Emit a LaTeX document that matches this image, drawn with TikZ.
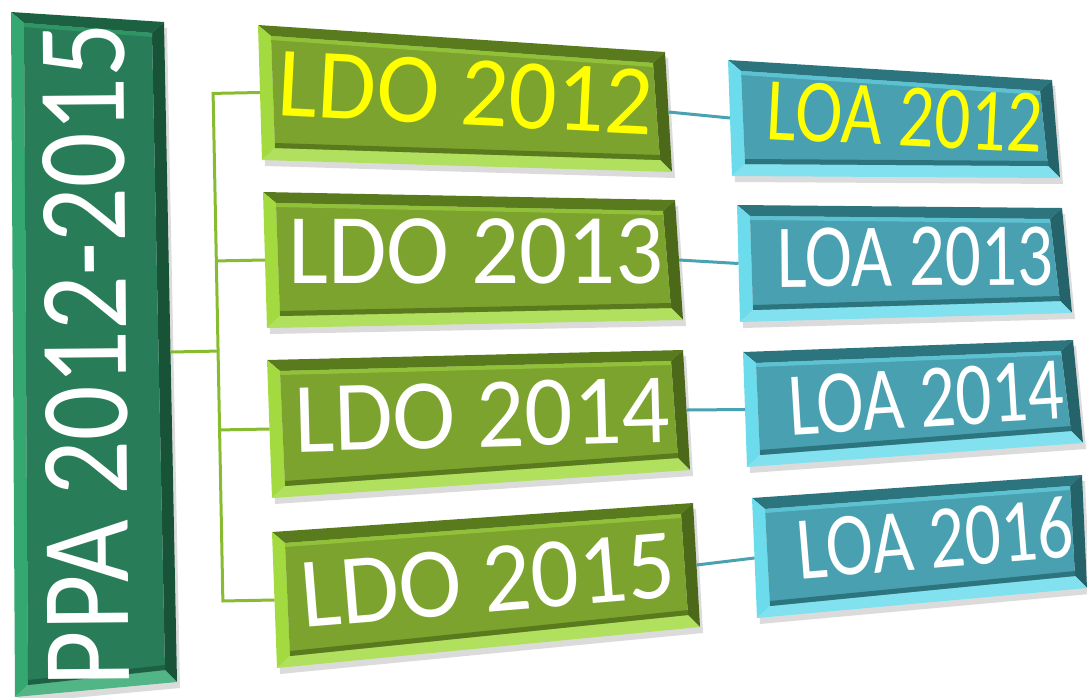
\documentclass[tikz,border=0pt]{standalone}
\usepackage{fontspec}
\setmainfont{Carlito}
\newfontfamily\ppafont[FakeStretch=0.86]{Carlito}
\newfontfamily\ldofont[FakeStretch=0.95]{Carlito}
\newfontfamily\loafont[FakeStretch=0.79]{Carlito}
\usetikzlibrary{calc}

\definecolor{ppaface}{RGB}{40,125,88}
\definecolor{ppalight}{RGB}{52,168,112}
\definecolor{ppadark}{RGB}{28,98,66}
\definecolor{ldoface}{RGB}{124,163,46}
\definecolor{ldolight}{RGB}{162,218,64}
\definecolor{ldodark}{RGB}{90,122,30}
\definecolor{loaface}{RGB}{72,160,176}
\definecolor{loalight}{RGB}{108,220,236}
\definecolor{loadark}{RGB}{44,116,126}
\definecolor{treegreen}{RGB}{136,188,48}
\definecolor{linkteal}{RGB}{72,162,178}
\definecolor{textyellow}{RGB}{255,255,0}

% beveled box from its four corners: name, tl, tr, br, bl, colour prefix
\newcommand{\bevelbox}[6]{%
  \coordinate (#1-tl) at #2;
  \coordinate (#1-tr) at #3;
  \coordinate (#1-br) at #4;
  \coordinate (#1-bl) at #5;
  \coordinate (#1-itl) at ($(#1-tl)+(13,11)$);
  \coordinate (#1-itr) at ($(#1-tr)+(-12,11)$);
  \coordinate (#1-ibr) at ($(#1-br)+(-12,-12)$);
  \coordinate (#1-ibl) at ($(#1-bl)+(13,-12)$);
  \fill[black,opacity=.14] ($(#1-tl)+(3,6)$) -- ($(#1-tr)+(3,6)$) -- ($(#1-br)+(3,6)$) -- ($(#1-bl)+(3,6)$) -- cycle;
  \fill[#6dark] (#1-tl) -- (#1-tr) -- (#1-itr) -- (#1-itl) -- cycle;
  \fill[#6dark!85!black] (#1-tr) -- (#1-br) -- (#1-ibr) -- (#1-itr) -- cycle;
  \fill[#6light] (#1-tl) -- (#1-itl) -- (#1-ibl) -- (#1-bl) -- cycle;
  \fill[#6light!85!white] (#1-bl) -- (#1-ibl) -- (#1-ibr) -- (#1-br) -- cycle;
  \fill[#6face] (#1-itl) -- (#1-itr) -- (#1-ibr) -- (#1-ibl) -- cycle;
  \fill[#6light!55!#6face] (#1-itl) -- (#1-itr) -- ($(#1-itr)+(0,4)$) -- ($(#1-itl)+(0,4)$) -- cycle;
  \fill[#6dark] (#1-ibl) -- (#1-ibr) -- ($(#1-ibr)+(0,-5)$) -- ($(#1-ibl)+(0,-5)$) -- cycle;
  \coordinate (#1-w) at ($(#1-tl)!.5!(#1-bl)$);
  \coordinate (#1-e) at ($(#1-tr)!.5!(#1-br)$);
}

\tikzset{
  ppatext/.style={font=\ppafont\fontsize{126}{126}\selectfont, inner sep=0pt, text=white},
  ldotext/.style={font=\ldofont\fontsize{100}{100}\selectfont, inner sep=0pt, text=white},
  loatext/.style={font=\loafont\fontsize{90}{90}\selectfont, inner sep=0pt, text=white},
  treeline/.style={draw=treegreen, line width=3pt},
  linkline/.style={draw=linkteal, line width=3pt}
}

\begin{document}
\begin{tikzpicture}[x=1pt, y=-1pt]
    \useasboundingbox (0,0) rectangle (1087,697);

    \bevelbox{ppa}{(11,12)}{(164,22)}{(177,682)}{(15,697)}{ppa}

    \bevelbox{ldo1}{(258,25)}{(665,52)}{(672,172)}{(262,160)}{ldo}
    \bevelbox{ldo2}{(263,192)}{(675,200)}{(683,320)}{(267,328)}{ldo}
    \bevelbox{ldo3}{(267,360)}{(683,350)}{(690,470)}{(272,498)}{ldo}
    \bevelbox{ldo4}{(272,532)}{(693,503)}{(700,627)}{(277,668)}{ldo}

    \bevelbox{loa1}{(728,60)}{(1052,80)}{(1060,178)}{(732,176)}{loa}
    \bevelbox{loa2}{(737,205)}{(1062,208)}{(1072,313)}{(740,322)}{loa}
    \bevelbox{loa3}{(743,352)}{(1073,340)}{(1083,443)}{(747,467)}{loa}
    \bevelbox{loa4}{(752,498)}{(1082,475)}{(1087,588)}{(757,618)}{loa}

    \node[ppatext, rotate=90.5] (ppa-t) at (86,355) {PPA 2012-2015};

    \node[ldotext, text=textyellow, rotate=-2.9] (ldo1-t) at (466,93) {LDO 2012};
    \node[ldotext] (ldo2-t) at (476,251) {LDO 2013};
    \node[ldotext, rotate=1.5] (ldo3-t) at (482,415) {LDO 2014};
    \node[ldotext, rotate=4.7] (ldo4-t) at (488,580) {LDO 2015};

    \node[loatext, text=textyellow, rotate=-2.8] (loa1-t) at (905,117) {LOA 2012};
    \node[loatext, rotate=.5] (loa2-t) at (915,257) {LOA 2013};
    \node[loatext, rotate=3.5] (loa3-t) at (926,398) {LOA 2014};
    \node[loatext, rotate=4.7] (loa4-t) at (935,538) {LOA 2016};

    % tree from the PPA box to the LDO boxes
    \coordinate (trunk-t) at (213,88);
    \coordinate (trunk-b) at (223,607);
    \draw[treeline] (ldo1-w) -- ($(trunk-t)!(ldo1-w)!(trunk-b)$) -- ($(trunk-t)!(ldo4-w)!(trunk-b)$) -- (ldo4-w);
    \foreach \n in {2,3}
        \draw[treeline] (ldo\n-w) -- ($(trunk-t)!(ldo\n-w)!(trunk-b)$);
    \draw[treeline] (ppa-e) -- ($(trunk-t)!(ppa-e)!(trunk-b)$);

    % LDO to LOA
    \foreach \n in {1,...,4}
        \draw[linkline] (ldo\n-e) -- (loa\n-w);
\end{tikzpicture}
\end{document}
